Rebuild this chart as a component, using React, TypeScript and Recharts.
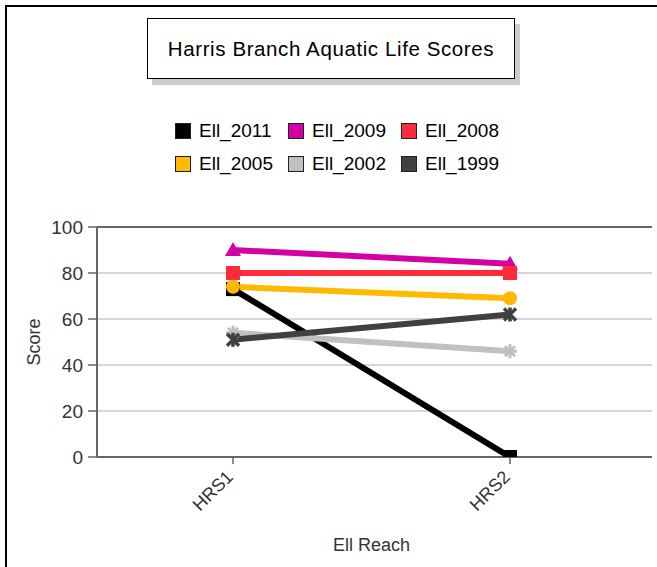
import { LineChart, Line, XAxis, YAxis, CartesianGrid, Legend, ReferenceLine } from 'recharts'

const reaches = ['HRS1', 'HRS2']
const ell2011 = [73, 0]
const ell2009 = [90, 84]
const ell2008 = [80, 80]
const ell2005 = [74, 69]
const ell2002 = [54, 46]
const ell1999 = [51, 62]
const yTicks = [0, 20, 40, 60, 80, 100]

const seriesNames = ['Ell_2011', 'Ell_2009', 'Ell_2008', 'Ell_2005', 'Ell_2002', 'Ell_1999']
const seriesValues = [ell2011, ell2009, ell2008, ell2005, ell2002, ell1999]
const seriesColors = ['#000000', '#d400a4', '#ff2b3c', '#ffb900', '#c0c0c0', '#404040']
const seriesMarkers = ['square', 'triangle', 'square', 'circle', 'plus', 'cross']

const data = reaches.map((reach, i) => {
  const row: Record<string, string | number> = { reach }
  seriesNames.forEach((name, s) => {
    row[name] = seriesValues[s][i]
  })
  return row
})

const FONT = '"Liberation Sans", Arial, sans-serif'
const TEXT = '#333333'

function makeDot(kind: string, color: string) {
  return (p: any) => {
    const { cx, cy, index, value } = p
    if (cx == null || cy == null) return <g key={index} />
    // markers sitting on the floor of the plot are cut by the plot edge
    const h = value === 0 ? 8 : 14
    if (kind === 'square') {
      return <rect key={index} x={cx - 7} y={cy - 7} width={14} height={h} fill={color} />
    }
    if (kind === 'triangle') {
      return <path key={index} d={`M${cx},${cy - 8} L${cx + 8},${cy + 6} L${cx - 8},${cy + 6} Z`} fill={color} />
    }
    if (kind === 'circle') {
      return <circle key={index} cx={cx} cy={cy} r={7} fill={color} />
    }
    if (kind === 'plus') {
      return (
        <path key={index} d={`M${cx - 7},${cy} H${cx + 7} M${cx},${cy - 7} V${cy + 7} M${cx - 5},${cy - 5} L${cx + 5},${cy + 5} M${cx + 5},${cy - 5} L${cx - 5},${cy + 5}`}
          stroke={color} strokeWidth={3} fill="none" />
      )
    }
    return (
      <path key={index} d={`M${cx - 6},${cy - 6} L${cx + 6},${cy + 6} M${cx + 6},${cy - 6} L${cx - 6},${cy + 6} M${cx},${cy - 7} V${cy + 7}`}
        stroke={color} strokeWidth={3.5} fill="none" />
    )
  }
}

function LegendBox() {
  return (
    <div style={{ fontFamily: FONT, fontSize: 19, color: '#000' }}>
      {[0, 1].map(row => (
        <div key={row} style={{ display: 'flex', height: 33, alignItems: 'center' }}>
          {[0, 1, 2].map(col => {
            const s = row * 3 + col
            return (
              <div key={col} style={{ display: 'flex', alignItems: 'center', width: 113 }}>
                <span style={{ display: 'inline-block', width: 14, height: 14, background: seriesColors[s], border: '1px solid #222', marginRight: 8 }} />
                <span>{seriesNames[s]}</span>
              </div>
            )
          })}
        </div>
      ))}
    </div>
  )
}

function ReachTick(p: any) {
  const { x, y, payload } = p
  const ax = x - 8
  const ay = y + 3
  return (
    <text x={ax} y={ay} transform={`rotate(-45, ${ax}, ${ay})`} textAnchor="end"
      dominantBaseline="hanging" fontFamily={FONT} fontSize={18} fill={TEXT}>
      {payload.value}
    </text>
  )
}

export default function App() {
  return (
    <div style={{ position: 'absolute', left: 0, top: 0, width: 657, height: 567, background: '#fff', overflow: 'hidden' }}>
      <div style={{ position: 'absolute', left: 5, top: 5, width: 700, height: 700, borderTop: '2px solid #000', borderLeft: '2px solid #000' }} />
      <div style={{
        position: 'absolute', left: 147, top: 18, width: 366, height: 59, border: '1px solid #000', background: '#fff',
        boxShadow: '5px 6px 0 #cccccc', display: 'flex', alignItems: 'center', justifyContent: 'center',
        fontFamily: FONT, fontSize: 20.5, letterSpacing: 0.6, color: '#000', zIndex: 2,
      }}>
        Harris Branch Aquatic Life Scores
      </div>
      <LineChart width={657} height={567} data={data} margin={{ top: 227, right: 5, bottom: 50, left: 37 }}>
        <CartesianGrid vertical={false} stroke="#c8c8c8" strokeWidth={1.5} />
        <XAxis dataKey="reach" padding={{ left: 136, right: 142 }} height={60} tickSize={7}
          axisLine={{ stroke: '#666', strokeWidth: 2 }} tickLine={{ stroke: '#666', strokeWidth: 1.5 }}
          tick={<ReachTick />} interval={0}
          label={{
            content: (p: any) => {
              const vb = p.viewBox
              return <text x={vb.x + vb.width / 2 - 3} y={551} textAnchor="middle" fontFamily={FONT} fontSize={18} fill={TEXT}>Ell Reach</text>
            },
          }} />
        <YAxis domain={[0, 100]} ticks={yTicks} width={60} tickSize={9} tickMargin={5} allowDataOverflow
          axisLine={{ stroke: '#666', strokeWidth: 2 }} tickLine={{ stroke: '#666', strokeWidth: 1.5 }}
          tick={{ fontFamily: FONT, fontSize: 19, fill: TEXT }}
          label={{
            content: (p: any) => {
              const vb = p.viewBox
              const cy = vb.y + vb.height / 2
              return <text x={40} y={cy} transform={`rotate(-90, 40, ${cy})`} textAnchor="middle" fontFamily={FONT} fontSize={18} fill={TEXT}>Score</text>
            },
          }} />
        <YAxis yAxisId="frame" orientation="right" width={0} tick={false} tickLine={false}
          axisLine={{ stroke: '#666', strokeWidth: 2 }} />
        <ReferenceLine y={100} stroke="#666" strokeWidth={2} />
        <Legend verticalAlign="middle" layout="horizontal" content={<LegendBox />}
          wrapperStyle={{ top: 114, left: 175, width: 345 }} />
        {seriesNames.map((name, s) => (
          <Line key={name} dataKey={name} stroke={seriesColors[s]} strokeWidth={6} isAnimationActive={false}
            dot={makeDot(seriesMarkers[s], seriesColors[s])} activeDot={false} />
        ))}
      </LineChart>
    </div>
  )
}
